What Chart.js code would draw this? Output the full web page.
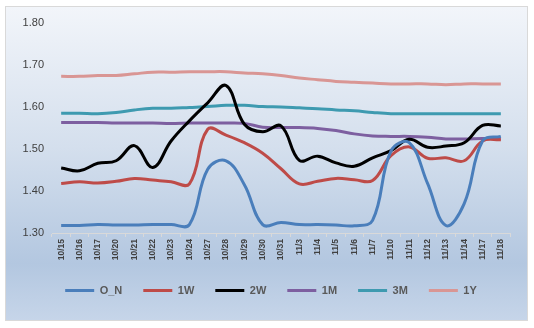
<!DOCTYPE html>
<html>
<head>
<meta charset="utf-8">
<script src="https://cdn.jsdelivr.net/npm/chart.js@4/dist/chart.umd.min.js"></script>
<style>
  body { margin: 0; background: #ffffff; }
  #wrap { position: relative; width: 534px; height: 328px; }
  #frame {
    position: absolute; left: 5px; top: 6px; width: 523px; height: 315px;
    box-sizing: border-box; border: 1px solid #d9d9d9;
    background: linear-gradient(to bottom, #f2f5fa 0%, #d4dfed 45%, #b3c7e0 82%, #c6d5e9 100%);
  }
  #c { position: absolute; left: 0; top: 0; }
</style>
</head>
<body>
<div id="wrap">
  <div id="frame"></div>
  <canvas id="c" width="534" height="328"></canvas>
</div>
<script>
// 日期标签
const dates = ['10/15', '10/16', '10/17', '10/20', '10/21', '10/22', '10/23', '10/24', '10/27', '10/28',
  '10/29', '10/30', '10/31', '11/3', '11/4', '11/5', '11/6', '11/7', '11/10', '11/11',
  '11/12', '11/13', '11/14', '11/17', '11/18'];

// 各期限利率
const rateON = [1.318, 1.318, 1.320, 1.319, 1.319, 1.320, 1.320, 1.320, 1.452, 1.472,
  1.415, 1.320, 1.325, 1.320, 1.320, 1.319, 1.317, 1.330, 1.495, 1.515,
  1.418, 1.318, 1.370, 1.519, 1.530];
const rate1W = [1.418, 1.422, 1.419, 1.423, 1.430, 1.426, 1.422, 1.417, 1.547, 1.533,
  1.515, 1.490, 1.453, 1.417, 1.423, 1.430, 1.427, 1.425, 1.484, 1.505,
  1.478, 1.479, 1.472, 1.519, 1.522];
const rate2W = [1.455, 1.448, 1.466, 1.472, 1.508, 1.456, 1.519, 1.567, 1.610, 1.651,
  1.559, 1.541, 1.555, 1.473, 1.483, 1.467, 1.459, 1.479, 1.496, 1.523,
  1.504, 1.507, 1.515, 1.556, 1.555];
const rate1M = [1.563, 1.563, 1.563, 1.562, 1.562, 1.562, 1.561, 1.562, 1.562, 1.562,
  1.561, 1.552, 1.551, 1.551, 1.549, 1.544, 1.536, 1.531, 1.530, 1.530,
  1.528, 1.524, 1.524, 1.525, 1.525];
const rate3M = [1.585, 1.585, 1.584, 1.587, 1.593, 1.597, 1.597, 1.599, 1.601, 1.604,
  1.604, 1.601, 1.600, 1.598, 1.596, 1.593, 1.591, 1.587, 1.584, 1.584,
  1.584, 1.584, 1.584, 1.584, 1.584];
const rate1Y = [1.673, 1.673, 1.675, 1.675, 1.679, 1.683, 1.683, 1.684, 1.684, 1.684,
  1.681, 1.679, 1.675, 1.669, 1.665, 1.661, 1.659, 1.657, 1.655, 1.655,
  1.655, 1.653, 1.655, 1.655, 1.655];

const seriesNames = ['O_N', '1W', '2W', '1M', '3M', '1Y'];
const seriesData = [rateON, rate1W, rate2W, rate1M, rate3M, rate1Y];
const seriesColors = ['#4a7ebb', '#be4b48', '#000000', '#7d5fa0', '#3e9ab0', '#d99694'];

// Y轴范围
const yMin = 1.30;
const yMax = 1.80;
const yStep = 0.10;

const FONT = '"Liberation Sans", Arial, sans-serif';

// 图例整体往右挪一点，和原图对齐
const legendShift = {
  id: 'legendShift',
  afterLayout(chart) {
    if (chart.legend) {
      chart.legend.left += 16;
      chart.legend.right += 16;
    }
  }
};

new Chart(document.getElementById('c'), {
  type: 'line',
  data: {
    labels: dates,
    datasets: seriesNames.map((name, i) => ({
      label: name,
      data: seriesData[i],
      borderColor: seriesColors[i],
      backgroundColor: seriesColors[i],
      borderWidth: 3,
      pointRadius: 0,
      tension: 0.4,
      fill: false
    }))
  },
  plugins: [legendShift],
  options: {
    responsive: false,
    animation: false,
    layout: { padding: { top: 23, right: 24, bottom: 22, left: 0 } },
    plugins: {
      tooltip: { enabled: false },
      legend: {
        position: 'bottom',
        labels: {
          usePointStyle: true,
          pointStyle: 'line',
          pointStyleWidth: 29,
          padding: 21,
          color: '#595959',
          font: { family: FONT, size: 11, weight: 'bold' }
        }
      }
    },
    scales: {
      x: {
        offset: true,
        afterFit: (s) => { s.height = 31; },
        grid: { offset: true, drawOnChartArea: false, tickLength: 4, color: '#d9d9d9' },
        border: { color: '#d9d9d9', width: 1 },
        ticks: {
          autoSkip: false,
          minRotation: 90,
          maxRotation: 90,
          padding: 2,
          color: '#404040',
          font: { family: FONT, size: 8.5, weight: 'bold' }
        }
      },
      y: {
        min: yMin,
        max: yMax,
        afterFit: (s) => { s.width = 52; },
        grid: { display: false, drawTicks: false },
        border: { display: false },
        ticks: {
          stepSize: yStep,
          padding: 8,
          color: '#404040',
          font: { family: FONT, size: 11 },
          callback: (v) => Number(v).toFixed(2)
        }
      }
    }
  }
});
</script>
</body>
</html>
